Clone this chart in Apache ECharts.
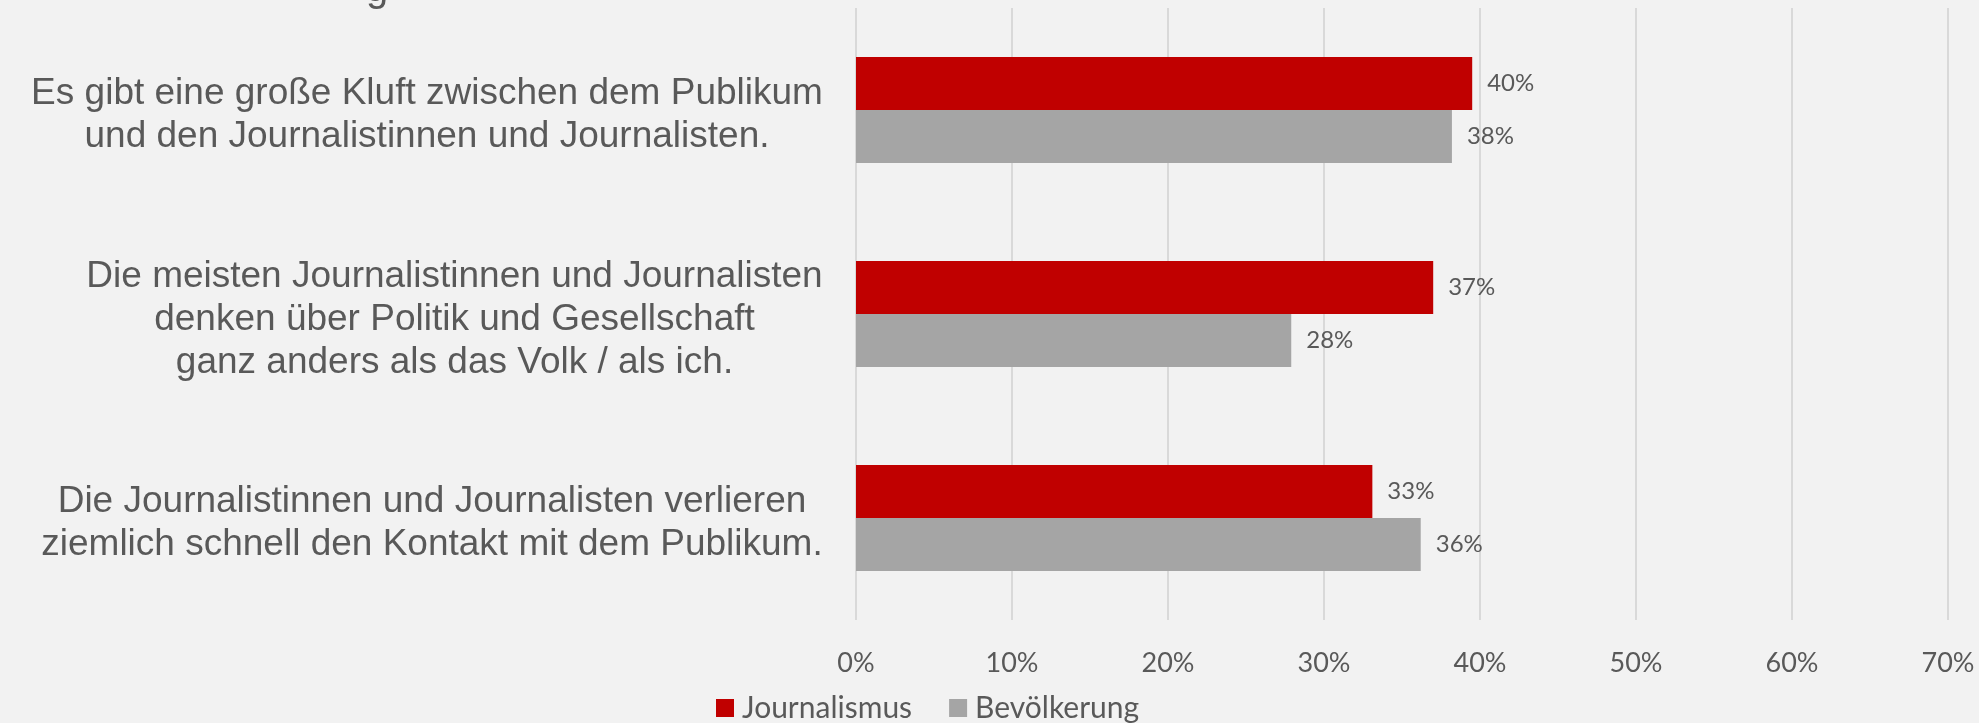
<!DOCTYPE html>
<html>
<head>
<meta charset="utf-8">
<script src="https://cdn.jsdelivr.net/npm/echarts@6/dist/echarts.min.js"></script>
<style>
  html, body { margin: 0; padding: 0; background: #F2F2F2; }
  #chart { width: 1979px; height: 723px; }
</style>
</head>
<body>
<div id="chart"></div>
<script>
// Statements, top to bottom
const categories = [
  'Es gibt eine große Kluft zwischen dem Publikum\nund den Journalistinnen und Journalisten.',
  'Die meisten Journalistinnen und Journalisten\ndenken über Politik und Gesellschaft\nganz anders als das Volk / als ich.',
  'Die Journalistinnen und Journalisten verlieren\nziemlich schnell den Kontakt mit dem Publikum.'
];
const seriesNames = ['Journalismus', 'Bevölkerung'];
const journalismus = [39.5, 37.0, 33.1];
const bevoelkerung = [38.2, 27.9, 36.2];
const xTicks = { min: 0, max: 70, interval: 10 };

const TEXT = '#595959';
const CAT_FONT = '"Liberation Sans", Arial, sans-serif';
const CAT_SIZE = 37;
const NUM_FONT = 'Lato, "Open Sans", sans-serif';

// Each statement is a right-aligned block whose lines are centred inside it,
// so give every block a rich style as wide as its longest line.
const ctx = document.createElement('canvas').getContext('2d');
ctx.font = CAT_SIZE + 'px ' + CAT_FONT;
const rich = {};
categories.forEach((c, i) => {
  const w = Math.max(...c.split('\n').map(l => ctx.measureText(l).width));
  rich['c' + i] = {
    width: Math.ceil(w),
    align: 'center',
    fontFamily: CAT_FONT,
    fontSize: CAT_SIZE,
    lineHeight: 43,
    color: TEXT
  };
});

const chart = echarts.init(document.getElementById('chart'), null, { renderer: 'canvas' });

const valueLabel = {
  show: true,
  position: 'right',
  distance: 15,
  color: TEXT,
  fontFamily: NUM_FONT,
  fontSize: 24,
  formatter: p => Math.round(p.value) + '%'
};

chart.setOption({
  backgroundColor: '#F2F2F2',
  animation: false,
  graphic: [{
    type: 'text',
    left: 366,
    top: -30,
    style: { text: 'g', fill: TEXT, font: '40px ' + CAT_FONT }
  }],
  legend: {
    data: seriesNames,
    left: 716,
    top: 693,
    padding: 0,
    itemWidth: 18,
    itemHeight: 18,
    itemGap: 37,
    icon: 'rect',
    textStyle: { color: TEXT, fontFamily: NUM_FONT, fontSize: 30, padding: [0, 0, 0, 3] }
  },
  grid: { left: 856, right: 31, top: 8, bottom: 103, containLabel: false },
  xAxis: {
    type: 'value',
    min: xTicks.min,
    max: xTicks.max,
    interval: xTicks.interval,
    axisLine: { show: false },
    axisTick: { show: false },
    splitLine: { show: true, lineStyle: { color: '#D9D9D9', width: 2 } },
    axisLabel: {
      margin: 30,
      color: TEXT,
      fontFamily: NUM_FONT,
      fontSize: 27,
      formatter: '{value}%'
    }
  },
  yAxis: {
    type: 'category',
    inverse: true,
    data: categories,
    axisLine: { show: false },
    axisTick: { show: false },
    axisLabel: {
      margin: 33,
      padding: [11, 0, 0, 0],
      formatter: (value, idx) => value.split('\n').map(l => '{c' + idx + '|' + l + '}').join('\n'),
      rich: rich
    }
  },
  series: [
    {
      name: seriesNames[0],
      type: 'bar',
      data: journalismus,
      barWidth: 53,
      barGap: '0%',
      itemStyle: { color: '#C00000' },
      label: valueLabel
    },
    {
      name: seriesNames[1],
      type: 'bar',
      data: bevoelkerung,
      barWidth: 53,
      barGap: '0%',
      itemStyle: { color: '#A5A5A5' },
      label: valueLabel
    }
  ]
});
</script>
</body>
</html>
